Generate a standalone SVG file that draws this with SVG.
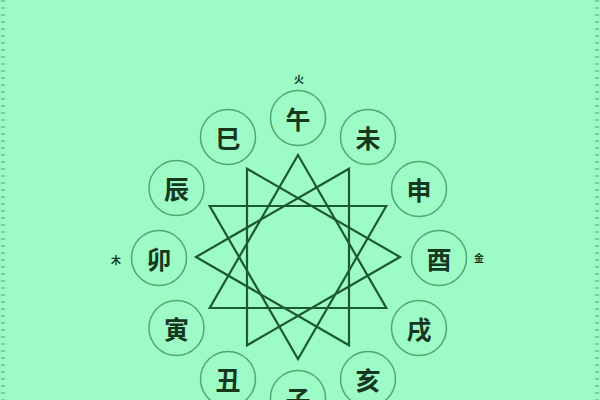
<svg xmlns="http://www.w3.org/2000/svg" width="600" height="400" viewBox="0 0 600 400">
<style>
.bg{fill:#9dfcc5}
.ring{fill:none;stroke:#4fa872;stroke-width:1.5}
.star{fill:none;stroke:#1d5a30;stroke-width:2.2;stroke-linejoin:miter}
.lbl{font-family:"Noto Sans CJK SC","Noto Sans CJK JP",sans-serif;font-size:25px;font-weight:700;fill:#15381f;text-anchor:middle;dominant-baseline:central}
.el{font-family:"Noto Sans CJK SC","Noto Sans CJK JP",sans-serif;font-size:10px;font-weight:700;fill:#15381f;text-anchor:middle;dominant-baseline:central}
.edge{fill:none;stroke:#4fa872;stroke-width:4;stroke-dasharray:2 5;opacity:0.5}
</style>
<rect class="bg" x="0" y="0" width="600" height="400"/>
<line class="edge" x1="3" y1="0" x2="3" y2="400"/>
<line class="edge" x1="597" y1="0" x2="597" y2="400"/>
<g id="connectors">
<polygon class="star" points="298,155 386.3,308 209.7,308"/>
<polygon class="star" points="349,168.7 349,345.3 196,257"/>
<polygon class="star" points="386.3,206 298,359 209.7,206"/>
<polygon class="star" points="400,257 247,345.3 247,168.7"/>
</g>
<g id="n-wu"><circle class="ring" cx="298" cy="118" r="27.5"/><text class="lbl" x="298" y="118">午</text></g>
<g id="n-wei"><circle class="ring" cx="368" cy="137" r="27.5"/><text class="lbl" x="368" y="137">未</text></g>
<g id="n-shen"><circle class="ring" cx="419" cy="189" r="27.5"/><text class="lbl" x="419" y="189">申</text></g>
<g id="n-you"><circle class="ring" cx="439" cy="258" r="27.5"/><text class="lbl" x="439" y="258">酉</text></g>
<g id="n-xu"><circle class="ring" cx="419" cy="328" r="27.5"/><text class="lbl" x="419" y="328">戌</text></g>
<g id="n-hai"><circle class="ring" cx="368" cy="379" r="27.5"/><text class="lbl" x="368" y="379">亥</text></g>
<g id="n-zi"><circle class="ring" cx="298" cy="398" r="27.5"/><text class="lbl" x="298" y="398">子</text></g>
<g id="n-chou"><circle class="ring" cx="228" cy="379" r="27.5"/><text class="lbl" x="228" y="379">丑</text></g>
<g id="n-yin"><circle class="ring" cx="176.5" cy="328" r="27.5"/><text class="lbl" x="176.5" y="328">寅</text></g>
<g id="n-mao"><circle class="ring" cx="159" cy="258" r="27.5"/><text class="lbl" x="159" y="258">卯</text></g>
<g id="n-chen"><circle class="ring" cx="176.5" cy="188" r="27.5"/><text class="lbl" x="176.5" y="188">辰</text></g>
<g id="n-si"><circle class="ring" cx="228" cy="137" r="27.5"/><text class="lbl" x="228" y="137">巳</text></g>
<g id="elements">
<text class="el" x="299" y="78">火</text>
<text class="el" x="116" y="259">木</text>
<text class="el" x="479" y="257">金</text>
</g>
</svg>
